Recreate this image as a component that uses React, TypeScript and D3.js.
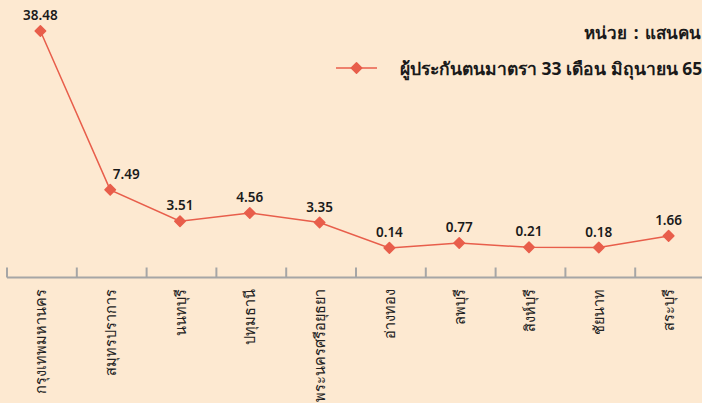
import React, { useCallback, useEffect, useRef } from "react";
import * as d3 from "d3";

// provinces (x categories)
const provinces = [
  "กรุงเทพมหานคร",
  "สมุทรปราการ",
  "นนทบุรี",
  "ปทุมธานี",
  "พระนครศรีอยุธยา",
  "อ่างทอง",
  "ลพบุรี",
  "สิงห์บุรี",
  "ชัยนาท",
  "สระบุรี",
];

// insured persons under section 33, unit: hundred thousand
const insured = [38.48, 7.49, 3.51, 4.56, 3.35, 0.14, 0.77, 0.21, 0.18, 1.66];

const seriesName = "ผู้ประกันตนมาตรา 33 เดือน มิถุนายน 65";
const unitLabel = "หน่วย : แสนคน";

const W = 702;
const H = 403;
const LINE = "#E85E4B";
const BG = "#FDE9D1";
const FONT = "Tahoma, 'Noto Sans', sans-serif";

/**
 * Line chart of insured persons by province
 */
const LineChart = () => {
  const svgRef = useRef<SVGSVGElement>(null);

  const renderChart = useCallback(() => {
    const root = d3.select(svgRef.current);
    root.selectChildren().remove();

    root.append("rect").attr("width", W).attr("height", H).attr("fill", BG);

    const x = d3
      .scaleBand<string>()
      .domain(provinces)
      .range([7, 705])
      .paddingInner(0)
      .paddingOuter(0);

    // the original axis is capped, so Bangkok's value sits clamped at the top
    const y = d3.scaleLinear().domain([0, 27.6]).range([249, 31]).clamp(true);

    const cx = (d: string) => (x(d) ?? 0) + x.bandwidth() / 2 - 1.5;

    // category axis
    const axis = root.append("g").attr("transform", "translate(0,277.5)");
    axis
      .append("line")
      .attr("x1", 7)
      .attr("x2", W)
      .attr("stroke", "#A6A6A6")
      .attr("stroke-width", 2);
    axis
      .selectAll("line.tick")
      .data(provinces.concat(["_end"]))
      .enter()
      .append("line")
      .attr("class", "tick")
      .attr("x1", (d, i) => 7 + i * x.bandwidth())
      .attr("x2", (d, i) => 7 + i * x.bandwidth())
      .attr("y1", -10)
      .attr("y2", 0)
      .attr("stroke", "#A6A6A6")
      .attr("stroke-width", 2);
    axis
      .selectAll("text")
      .data(provinces)
      .enter()
      .append("text")
      .attr(
        "transform",
        (d) => `translate(${cx(d) + 5.5},11.5) rotate(-90)`
      )
      .attr("text-anchor", "end")
      .attr("font-family", FONT)
      .attr("font-size", 14.5)
      .attr("fill", "#222")
      .text((d) => d);

    // the line
    const line = d3
      .line<number>()
      .x((d, i) => cx(provinces[i]))
      .y((d) => y(d));
    root
      .append("path")
      .datum(insured)
      .attr("fill", "none")
      .attr("stroke", LINE)
      .attr("stroke-width", 1.5)
      .attr("d", line);

    const diamond = d3.symbol().type(d3.symbolDiamond2).size(70);

    root
      .append("g")
      .selectAll("path")
      .data(insured)
      .enter()
      .append("path")
      .attr("d", diamond)
      .attr("fill", LINE)
      .attr("stroke", LINE)
      .attr("stroke-linejoin", "round")
      .attr("stroke-width", 1.5)
      .attr(
        "transform",
        (d, i) => `translate(${cx(provinces[i])},${y(d)})`
      );

    // value labels (7.49 was nudged right off the line)
    root
      .append("g")
      .selectAll("text")
      .data(insured)
      .enter()
      .append("text")
      .attr("x", (d, i) => cx(provinces[i]) + (i === 1 ? 16 : 0))
      .attr("y", (d) => y(d) - 11)
      .attr("text-anchor", "middle")
      .attr("font-family", FONT)
      .attr("font-size", 13.5)
      .attr("font-weight", 600)
      .attr("fill", "#1a1a1a")
      .text((d) => d.toFixed(2));

    // unit + legend
    root
      .append("text")
      .attr("x", 701)
      .attr("y", 39)
      .attr("text-anchor", "end")
      .attr("font-family", FONT)
      .attr("font-size", 17)
      .attr("font-weight", 700)
      .attr("word-spacing", 2)
      .attr("fill", "#1a1a1a")
      .text(unitLabel);

    const lg = root.append("g").attr("transform", "translate(336,68)");
    lg.append("line")
      .attr("x1", 0)
      .attr("x2", 41)
      .attr("stroke", LINE)
      .attr("stroke-width", 1.5);
    lg.append("path")
      .attr("d", diamond)
      .attr("fill", LINE)
      .attr("stroke", LINE)
      .attr("stroke-linejoin", "round")
      .attr("stroke-width", 1.5)
      .attr("transform", "translate(20.5,0)");
    lg.append("text")
      .attr("x", 64)
      .attr("y", 6.5)
      .attr("font-family", FONT)
      .attr("font-size", 17.5)
      .attr("font-weight", 700)
      .attr("fill", "#1a1a1a")
      .text(seriesName);

    return root;
  }, []);

  useEffect(() => {
    renderChart();
  }, [renderChart]);

  return (
    <svg
      ref={svgRef}
      width={W}
      height={H}
      style={{ position: "absolute", left: 0, top: 0, display: "block" }}
    ></svg>
  );
};

export default function App() {
  return <LineChart />;
}
